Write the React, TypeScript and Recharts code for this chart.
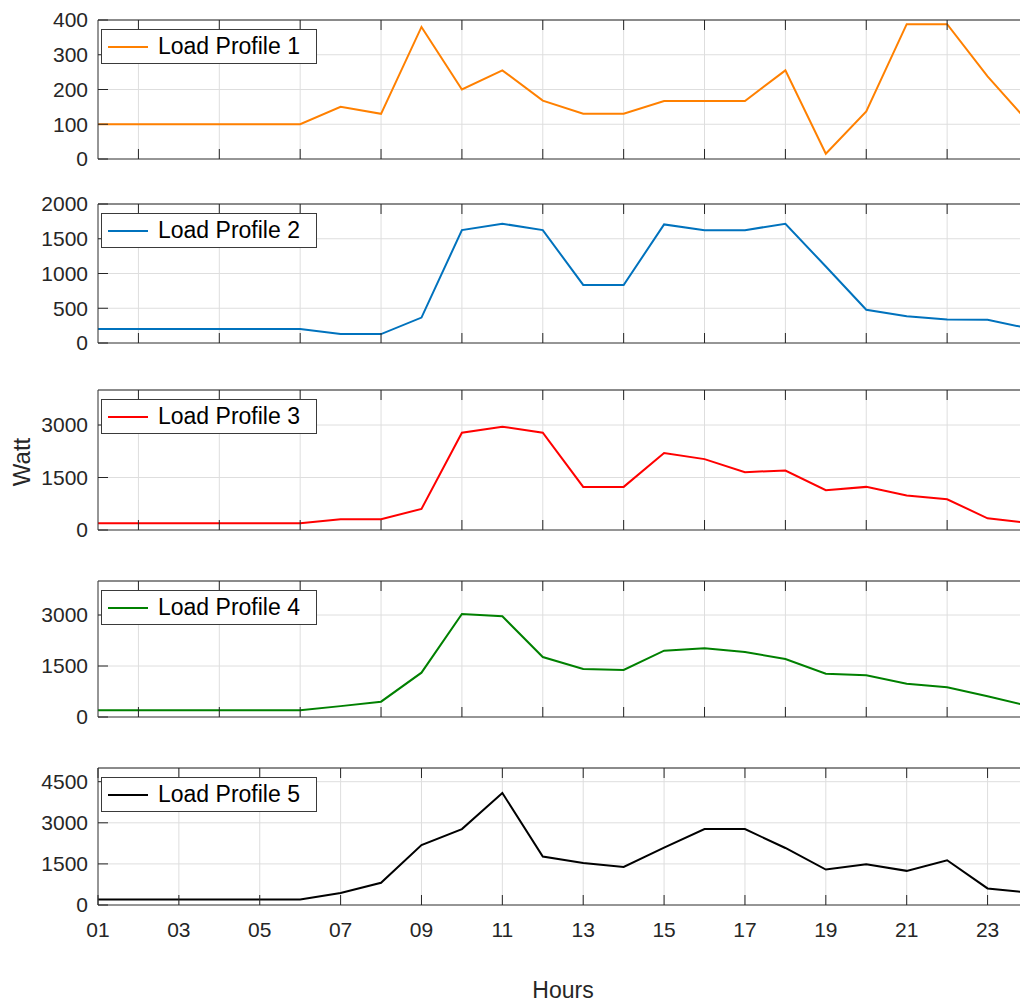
import React from 'react';
import { LineChart, Line, XAxis, YAxis, CartesianGrid } from 'recharts';

const HOURS = [1, 2, 3, 4, 5, 6, 7, 8, 9, 10, 11, 12, 13, 14, 15, 16, 17, 18, 19, 20, 21, 22, 23, 24];

const LOAD_1 = [100, 100, 100, 100, 100, 100, 150, 130, 380, 200, 255, 168, 130, 130, 167, 167, 167, 255, 15, 137, 388, 388, 238, 107];
const LOAD_2 = [200, 200, 200, 200, 200, 200, 130, 128, 366, 1624, 1716, 1624, 836, 834, 1706, 1624, 1624, 1716, 1100, 478, 386, 338, 333, 212];
const LOAD_3 = [195, 195, 195, 195, 195, 195, 306, 306, 602, 2780, 2952, 2780, 1232, 1232, 2197, 2025, 1653, 1700, 1137, 1232, 984, 879, 334, 200];
const LOAD_4 = [200, 200, 200, 200, 200, 200, 320, 451, 1304, 3029, 2961, 1765, 1412, 1382, 1951, 2020, 1912, 1706, 1275, 1225, 980, 873, 608, 330];
const LOAD_5 = [200, 200, 200, 200, 200, 200, 440, 810, 2190, 2770, 4089, 1766, 1536, 1391, 2093, 2770, 2770, 2081, 1294, 1488, 1246, 1633, 605, 455];

const EVEN_TICKS = [2, 4, 6, 8, 10, 12, 14, 16, 18, 20, 22, 24];
const ODD_TICKS = [1, 3, 5, 7, 9, 11, 13, 15, 17, 19, 21, 23];

const PANELS = [
  { name: 'Load Profile 1', values: LOAD_1, color: '#ff8000', max: 400, yTicks: [0, 100, 200, 300, 400], top: 20, bottom: 159 },
  { name: 'Load Profile 2', values: LOAD_2, color: '#0072bd', max: 2000, yTicks: [0, 500, 1000, 1500, 2000], top: 204, bottom: 343 },
  { name: 'Load Profile 3', values: LOAD_3, color: '#ff0000', max: 4000, yTicks: [0, 1500, 3000], top: 390, bottom: 530 },
  { name: 'Load Profile 4', values: LOAD_4, color: '#008000', max: 4000, yTicks: [0, 1500, 3000], top: 581, bottom: 717 },
  { name: 'Load Profile 5', values: LOAD_5, color: '#000000', max: 5000, yTicks: [0, 1500, 3000, 4500], top: 768, bottom: 905 },
];

const FONT = '"Liberation Sans", Arial, Helvetica, sans-serif';
const AXIS = '#262626';
const AXIS_LINE = '#3c3c3c';
const GRID = '#dedede';
const PLOT_LEFT = 98;
const CHART_W = 1030;
const PAD = 20; // room above/below each plot box for labels
const TICK_LEN = 10;
const X_GAP = 17;
const Y_GAP = 10;

// MATLAB style ticks: marks point into the plot box
const bottomTick = (withLabel: boolean) => (props: any) => {
  const { x, y, payload } = props;
  const axisY = y - X_GAP;
  return (
    <g>
      <line x1={x} x2={x} y1={axisY} y2={axisY - TICK_LEN} stroke={AXIS} />
      {withLabel && (
        <text x={x} y={y} dy="0.71em" textAnchor="middle" fill={AXIS} fontSize={21} fontFamily={FONT}>
          {String(payload.value).padStart(2, '0')}
        </text>
      )}
    </g>
  );
};

const topTick = (props: any) => {
  const { x, y } = props;
  const axisY = y + X_GAP;
  return <line x1={x} x2={x} y1={axisY} y2={axisY + TICK_LEN} stroke={AXIS} />;
};

const leftTick = (props: any) => {
  const { x, y, payload } = props;
  const axisX = x + Y_GAP;
  return (
    <g>
      <line x1={axisX} x2={axisX + TICK_LEN} y1={y} y2={y} stroke={AXIS} />
      <text x={x} y={y} dy="0.355em" textAnchor="end" fill={AXIS} fontSize={21} fontFamily={FONT}>
        {payload.value}
      </text>
    </g>
  );
};

const rightTick = (props: any) => {
  const { x, y } = props;
  const axisX = x - Y_GAP;
  return <line x1={axisX} x2={axisX - TICK_LEN} y1={y} y2={y} stroke={AXIS} />;
};

function Panel({ p, last }: { p: (typeof PANELS)[number]; last: boolean }) {
  const data = HOURS.map((h, i) => ({ hour: h, load: p.values[i] }));
  const plotH = p.bottom - p.top;
  const bottomH = last ? 45 : PAD;
  const xTicks = last ? ODD_TICKS : EVEN_TICKS;

  return (
    <div style={{ position: 'absolute', left: 0, top: p.top - PAD }}>
      <LineChart width={CHART_W} height={PAD + plotH + bottomH} data={data} margin={{ top: 0, right: 0, bottom: 0, left: 0 }}>
        <CartesianGrid stroke={GRID} strokeWidth={1} />
        <XAxis
          type="number"
          dataKey="hour"
          domain={[1, 24]}
          ticks={xTicks}
          interval={0}
          height={bottomH}
          stroke={AXIS_LINE}
          tickLine={false}
          tickSize={0}
          tickMargin={X_GAP}
          tick={bottomTick(last)}
        />
        <XAxis
          xAxisId="top"
          orientation="top"
          type="number"
          dataKey="hour"
          domain={[1, 24]}
          ticks={xTicks}
          interval={0}
          height={PAD}
          stroke={AXIS}
          tickLine={false}
          tickSize={0}
          tickMargin={X_GAP}
          tick={topTick}
        />
        <YAxis
          type="number"
          domain={[0, p.max]}
          ticks={p.yTicks}
          interval={0}
          width={PLOT_LEFT}
          stroke={AXIS_LINE}
          tickLine={false}
          tickSize={0}
          tickMargin={Y_GAP}
          tick={leftTick}
        />
        <YAxis
          yAxisId="right"
          orientation="right"
          type="number"
          domain={[0, p.max]}
          ticks={p.yTicks}
          interval={0}
          width={2}
          stroke={AXIS}
          tickLine={false}
          tickSize={0}
          tickMargin={Y_GAP}
          tick={rightTick}
        />
        <Line
          type="linear"
          dataKey="load"
          stroke={p.color}
          strokeWidth={2}
          dot={false}
          isAnimationActive={false}
        />
      </LineChart>
      <div
        style={{
          position: 'absolute',
          left: PLOT_LEFT + 3,
          top: PAD + 9,
          width: 214,
          height: 33,
          border: '1px solid #3a3a3a',
          background: '#fff',
          fontFamily: FONT,
          fontSize: 23,
          color: '#000',
          display: 'flex',
          alignItems: 'center',
        }}
      >
        <span style={{ display: 'inline-block', width: 40, height: 2, background: p.color, marginLeft: 6 }} />
        <span style={{ marginLeft: 10, whiteSpace: 'nowrap' }}>{p.name}</span>
      </div>
    </div>
  );
}

export default function App() {
  return (
    <div style={{ position: 'absolute', left: 0, top: 0, width: 1020, height: 1003, overflow: 'hidden', background: '#fff' }}>
      {PANELS.map((p, i) => (
        <Panel key={p.name} p={p} last={i === PANELS.length - 1} />
      ))}
      <div
        style={{
          position: 'absolute',
          left: 22,
          top: 462,
          transform: 'translate(-50%, -50%) rotate(-90deg)',
          fontFamily: FONT,
          fontSize: 24,
          lineHeight: 1,
          color: AXIS,
          whiteSpace: 'nowrap',
        }}
      >
        Watt
      </div>
      <div
        style={{
          position: 'absolute',
          left: 563,
          top: 979,
          transform: 'translateX(-50%)',
          fontFamily: FONT,
          fontSize: 23,
          lineHeight: 1,
          color: AXIS,
          whiteSpace: 'nowrap',
        }}
      >
        Hours
      </div>
    </div>
  );
}
